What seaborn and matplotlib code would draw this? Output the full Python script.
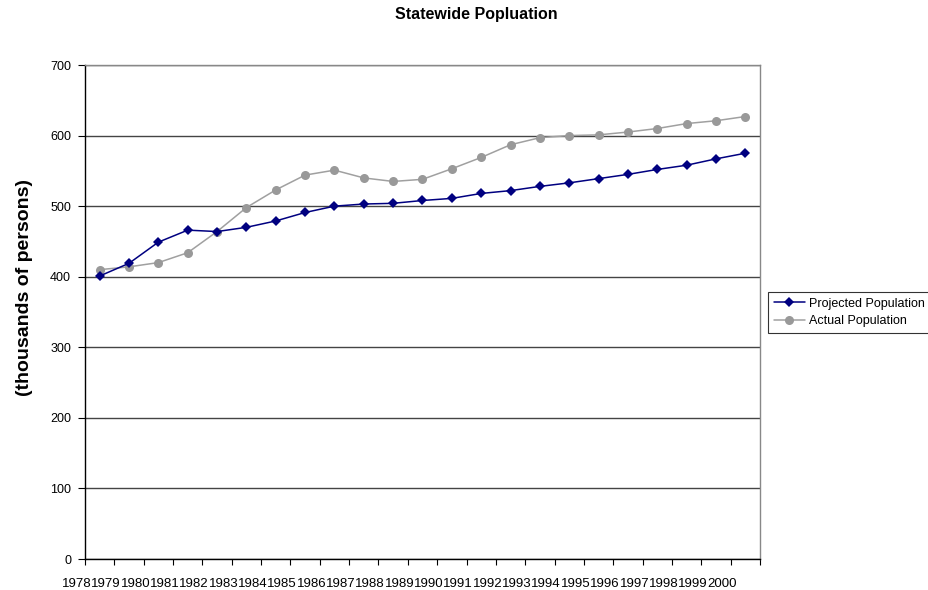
import matplotlib
matplotlib.use("Agg")
import matplotlib.pyplot as plt
from matplotlib.transforms import ScaledTranslation
import seaborn as sns
import pandas as pd
import numpy as np

years = [str(y) for y in range(1978, 2001)]
projected = [401, 419, 449, 466, 464, 470, 479, 491, 500, 503, 504, 508, 511,
             518, 522, 528, 533, 539, 545, 552, 558, 567, 575]
actual = [410, 414, 420, 434, 464, 498, 523, 544, 551, 540, 535, 538, 553,
          569, 587, 597, 600, 601, 605, 610, 617, 621, 627]
y_ticks = [0, 100, 200, 300, 400, 500, 600, 700]

sns.set_style("white")
plt.rcParams["font.family"] = ["Liberation Sans", "DejaVu Sans"]
plt.rcParams.update({"text.color": "black", "axes.labelcolor": "black",
                     "xtick.color": "black", "ytick.color": "black"})

fig = plt.figure(figsize=(9.29, 5.90), dpi=100)
ax = fig.add_axes([85 / 929, 1 - 559 / 590, 675 / 929, 494 / 590])

idx = np.arange(len(years))
df = pd.DataFrame({"idx": idx, "Projected Population": projected,
                   "Actual Population": actual})

sns.lineplot(data=df, x="idx", y="Projected Population", ax=ax, color="#000080",
             marker="D", markersize=5.5, markeredgewidth=0, linewidth=1.1,
             label="Projected Population", zorder=4)
sns.lineplot(data=df, x="idx", y="Actual Population", ax=ax, color="#a0a0a0",
             marker="o", markersize=6.5, markeredgewidth=0, linewidth=1.1,
             markerfacecolor="#999999", label="Actual Population", zorder=3)

ax.set_yticks(y_ticks)
ax.set_yticklabels([str(v) for v in y_ticks], fontsize=9)
ax.yaxis.grid(True, color="#444444", linewidth=1.0)
ax.set_axisbelow(True)

# category boundaries carry the tick marks; year labels sit beneath them
ax.set_xticks(list(idx - 0.5) + [len(years) - 0.5], minor=True)
ax.set_xticks(idx)
ax.set_xticklabels(years, fontsize=9.5)
ax.tick_params(axis="x", which="major", length=0, pad=14)
ax.tick_params(axis="x", which="minor", length=4, width=0.8, color="black",
               direction="out", bottom=True)
ax.tick_params(axis="y", length=5, width=0.8, color="black", direction="out",
               left=True, pad=5)
ax.set_xlim(-0.5, len(years) - 0.5)
ax.set_ylim(0, 700)

shift = ScaledTranslation(-23 / 100, 0, fig.dpi_scale_trans)
for lbl in ax.get_xticklabels():
    lbl.set_transform(lbl.get_transform() + shift)

ax.set_xlabel("")
ax.set_ylabel("(thousands of persons)", fontsize=14, fontweight="bold")
ax.yaxis.set_label_coords(-0.077, 0.549)

for side in ["top", "right"]:
    ax.spines[side].set_color("#888888")
    ax.spines[side].set_linewidth(1.0)
for side in ["left", "bottom"]:
    ax.spines[side].set_color("black")
    ax.spines[side].set_linewidth(1.0)

fig.text(476 / 929, 1 - 15 / 590, "Statewide Popluation", ha="center", va="center",
         fontsize=11.5, fontweight="bold")

leg = ax.legend(loc="upper left", bbox_to_anchor=(768 / 929, 1 - 292 / 590),
                bbox_transform=fig.transFigure, fontsize=9, frameon=True,
                fancybox=False, borderpad=0.45, handlelength=2.5,
                handletextpad=0.3, labelspacing=0.45, borderaxespad=0)
leg.get_frame().set_edgecolor("black")
leg.get_frame().set_linewidth(0.8)
for h in leg.legend_handles:
    h.set_markersize(5.5 if h.get_marker() == "D" else 6.5)

fig.savefig("out.png", dpi=100)
